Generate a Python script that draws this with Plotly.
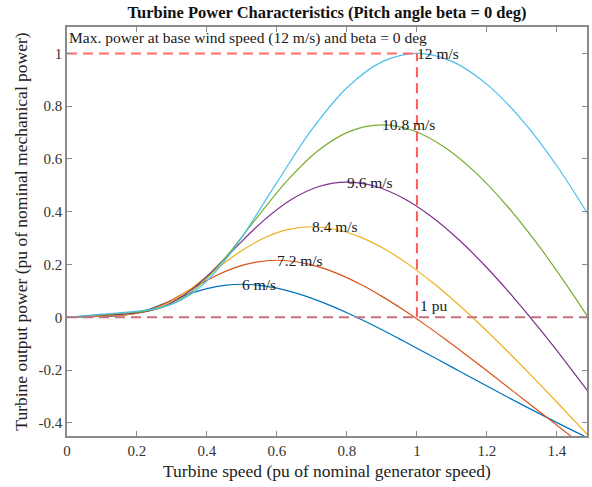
import plotly.graph_objects as go

# ---- data ----
speed_6 = [0, 0.05, 0.1, 0.125, 0.15, 0.175, 0.2, 0.225, 0.25, 0.3, 0.35, 0.4, 0.45, 0.5, 0.55, 0.6, 0.65, 0.7, 0.75, 0.8, 0.85, 0.9, 0.95, 1.0, 1.1, 1.2, 1.3, 1.4, 1.5]
power_6 = [0, 0.0014, 0.0029, 0.0040, 0.0062, 0.0105, 0.0173, 0.0266, 0.0380, 0.0639, 0.0890, 0.1087, 0.1210, 0.125, 0.1212, 0.1103, 0.0935, 0.0717, 0.0458, 0.0169, -0.0145, -0.0477, -0.0820, -0.1174, -0.189, -0.2608, -0.3311, -0.3993, -0.4648]

speed_72 = [0, 0.06, 0.12, 0.15, 0.18, 0.21, 0.24, 0.27, 0.30, 0.36, 0.42, 0.48, 0.54, 0.60, 0.66, 0.72, 0.78, 0.84, 0.90, 0.96, 1.02, 1.08, 1.14, 1.20, 1.32, 1.44, 1.56]
power_72 = [0, 0.0025, 0.0050, 0.0069, 0.0108, 0.0181, 0.0298, 0.0459, 0.0656, 0.1104, 0.1537, 0.1879, 0.2090, 0.216, 0.2094, 0.1907, 0.1615, 0.1238, 0.0792, 0.0291, -0.0251, -0.0824, -0.1418, -0.2028, -0.3266, -0.4506, -0.5722]

speed_84 = [0, 0.07, 0.14, 0.175, 0.21, 0.245, 0.28, 0.315, 0.35, 0.42, 0.49, 0.56, 0.63, 0.70, 0.77, 0.84, 0.91, 0.98, 1.05, 1.12, 1.19, 1.26, 1.33, 1.40, 1.54]
power_84 = [0, 0.0039, 0.0080, 0.0110, 0.0171, 0.0287, 0.0473, 0.0730, 0.1042, 0.1753, 0.2441, 0.2983, 0.3319, 0.343, 0.3326, 0.3028, 0.2565, 0.1966, 0.1257, 0.0463, -0.0399, -0.1308, -0.2251, -0.3221, -0.5186]

speed_96 = [0, 0.08, 0.16, 0.2, 0.24, 0.28, 0.32, 0.36, 0.4, 0.48, 0.56, 0.64, 0.72, 0.8, 0.88, 0.96, 1.04, 1.12, 1.2, 1.28, 1.36, 1.44, 1.52]
power_96 = [0, 0.0059, 0.0119, 0.0164, 0.0255, 0.0428, 0.0707, 0.1089, 0.1555, 0.2617, 0.3644, 0.4453, 0.4955, 0.512, 0.4964, 0.4519, 0.3829, 0.2935, 0.1877, 0.0691, -0.0595, -0.1953, -0.3361]

speed_108 = [0, 0.09, 0.18, 0.225, 0.27, 0.315, 0.36, 0.405, 0.45, 0.54, 0.63, 0.72, 0.81, 0.9, 0.99, 1.08, 1.17, 1.26, 1.35, 1.44, 1.53]
power_108 = [0, 0.0084, 0.0170, 0.0234, 0.0363, 0.0609, 0.1006, 0.1551, 0.2215, 0.3727, 0.5189, 0.6341, 0.7055, 0.729, 0.7068, 0.6435, 0.5452, 0.4179, 0.2673, 0.0983, -0.0847]

speed_12 = [0, 0.1, 0.2, 0.25, 0.3, 0.35, 0.4, 0.45, 0.5, 0.6, 0.7, 0.8, 0.9, 1.0, 1.1, 1.2, 1.3, 1.4, 1.5]
power_12 = [0, 0.0115, 0.0233, 0.0321, 0.0498, 0.0836, 0.1380, 0.2127, 0.3038, 0.5112, 0.7118, 0.8698, 0.9677, 1.0, 0.9696, 0.8827, 0.7479, 0.5733, 0.3666]

wind_labels = ["6 m/s", "7.2 m/s", "8.4 m/s", "9.6 m/s", "10.8 m/s", "12 m/s"]
label_x = [0.5, 0.6, 0.7, 0.8, 0.9, 1.0]
label_y = [0.125, 0.216, 0.343, 0.512, 0.729, 1.0]

x_ticks = [0, 0.2, 0.4, 0.6, 0.8, 1.0, 1.2, 1.4]
x_ticktext = ["0", "0.2", "0.4", "0.6", "0.8", "1", "1.2", "1.4"]
y_ticks = [-0.4, -0.2, 0, 0.2, 0.4, 0.6, 0.8, 1.0]
y_ticktext = ["-0.4", "-0.2", "0", "0.2", "0.4", "0.6", "0.8", "1"]

ref_h1_x = [0, 1.0]
ref_h1_y = [1.0, 1.0]
ref_v_x = [1.0, 1.0]
ref_v_y = [0, 1.0]
ref_h0_x = [0, 1.49]
ref_h0_y = [0, 0]

colors = ["#0072BD", "#D95319", "#EDB120", "#7E2F8E", "#77AC30", "#4DBEEE"]
series = [(speed_6, power_6), (speed_72, power_72), (speed_84, power_84),
          (speed_96, power_96), (speed_108, power_108), (speed_12, power_12)]

FONT = "Liberation Serif, Times New Roman, serif"

fig = go.Figure()

for (xs, ys), c, name in zip(series, colors, wind_labels):
    fig.add_trace(go.Scatter(x=xs, y=ys, mode="lines", name=name,
                             line=dict(color=c, width=1.2, shape="spline", smoothing=1.0)))

fig.add_trace(go.Scatter(x=ref_h0_x, y=ref_h0_y, mode="lines",
                         line=dict(color="#C9707F", width=2, dash="10px,6px")))
fig.add_trace(go.Scatter(x=ref_h1_x, y=ref_h1_y, mode="lines",
                         line=dict(color="#FF6A6A", width=2, dash="10px,6px")))
fig.add_trace(go.Scatter(x=ref_v_x, y=ref_v_y, mode="lines",
                         line=dict(color="#FF5A5A", width=2, dash="10px,6px")))

ann_font = dict(family=FONT, size=15.5, color="#1a1a1a")
annotations = []
for t, lx, ly in zip(wind_labels, label_x, label_y):
    annotations.append(dict(x=lx, y=ly, xref="x", yref="y", text=t, showarrow=False,
                            xanchor="left", yanchor="middle", xshift=-2, font=ann_font))
annotations.append(dict(x=1.0, y=0.045, xref="x", yref="y", text="1 pu", showarrow=False,
                        xanchor="left", yanchor="middle", xshift=1, font=ann_font))
annotations.append(dict(x=0.0, y=1.06, xref="x", yref="y",
                        text="Max. power at base wind speed (12 m/s) and beta = 0 deg",
                        showarrow=False, xanchor="left", yanchor="middle", xshift=0,
                        font=ann_font))

axis_common = dict(showline=True, linecolor="#8a8a8a", linewidth=1.5, mirror="ticks",
                   ticks="inside", ticklen=5, tickcolor="#8a8a8a", tickwidth=1,
                   showgrid=False, zeroline=False, automargin=False,
                   tickfont=dict(family=FONT, size=15, color="#333333"))

fig.update_layout(
    width=592, height=487,
    margin=dict(l=67, r=5, t=27, b=51),
    paper_bgcolor="white", plot_bgcolor="white",
    showlegend=False,
    title=dict(text="<b>Turbine Power Characteristics (Pitch angle beta = 0 deg)</b>",
               x=0.5525, xanchor="center", y=0.975, yanchor="middle",
               font=dict(family=FONT, size=16.5, color="#111111")),
    xaxis=dict(range=[0, 1.486], tickvals=x_ticks, ticktext=x_ticktext,
               title=dict(text="Turbine speed (pu of nominal generator speed)", standoff=7,
                          font=dict(family=FONT, size=17.5, color="#222222")),
               **axis_common),
    yaxis=dict(range=[-0.45, 1.1], tickvals=y_ticks, ticktext=y_ticktext,
               title=dict(text="Turbine output power (pu of nominal mechanical power)", standoff=6,
                          font=dict(family=FONT, size=17.5, color="#222222")),
               **axis_common),
    annotations=annotations,
)

fig.write_html("out.html", config={"displayModeBar": False},
               post_script="document.body.style.margin='0px';")
